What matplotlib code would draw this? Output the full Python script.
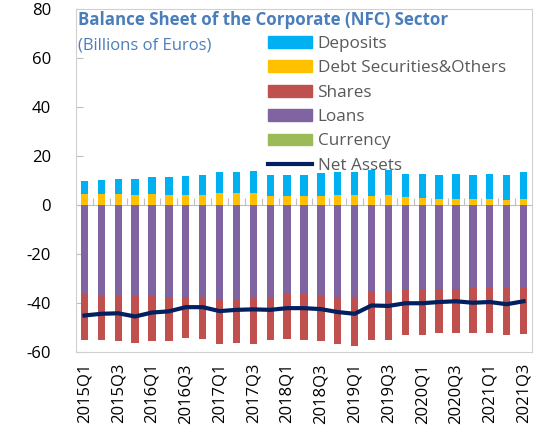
import matplotlib.pyplot as plt
from matplotlib.patches import Patch
from matplotlib.lines import Line2D
import numpy as np

plt.rcParams['font.family'] = ['Open Sans', 'DejaVu Sans']
plt.rcParams['axes.unicode_minus'] = False

quarters = [str(y) + 'Q' + str(q) for y in range(2015, 2022) for q in range(1, 5)][:27]

deposits = [5.7, 6.1, 6.5, 6.6, 7.0, 7.6, 8.0, 8.3, 8.3, 8.7, 9.0, 8.9, 8.8, 8.9,
            9.4, 9.1, 9.3, 10.3, 10.2, 9.6, 9.7, 9.7, 10.1, 9.9, 10.1, 10.3, 11.0]
debt = [4.3, 4.3, 4.3, 4.2, 4.3, 4.0, 4.0, 4.0, 5.0, 4.8, 4.8, 3.5, 3.5, 3.5,
        3.6, 4.2, 4.0, 3.8, 3.9, 3.1, 3.0, 2.5, 2.6, 2.3, 2.6, 2.1, 2.5]
currency = [0.0] * 27
loans = [-36.3, -36.7, -36.7, -37.1, -36.6, -37.8, -37.5, -37.9, -38.7, -38.3, -38.0, -37.9, -36.3, -36.3,
         -37.0, -37.4, -37.7, -35.2, -35.5, -34.6, -34.6, -34.2, -34.2, -33.4, -33.5, -33.7, -33.5]
shares = [-19.0, -18.6, -18.9, -19.3, -19.0, -17.8, -16.7, -16.7, -18.0, -18.1, -18.7, -17.4, -18.3, -18.7,
          -18.6, -19.5, -19.8, -19.8, -19.8, -18.3, -18.3, -18.1, -18.0, -18.9, -18.9, -19.3, -19.2]
net_assets = [-45.1, -44.4, -44.2, -45.5, -43.9, -43.4, -41.7, -41.7, -43.3, -42.8, -42.6, -42.8, -42.1, -42.1,
              -42.5, -43.7, -44.4, -41.0, -41.2, -40.1, -40.1, -39.6, -39.3, -39.9, -39.6, -40.5, -39.3]

c_dep = '#00B0F0'
c_debt = '#FFC000'
c_shares = '#C0504D'
c_loans = '#8064A2'
c_cur = '#9BBB59'
c_net = '#002060'

fig = plt.figure(figsize=(5.37, 4.34), dpi=100)
ax = fig.add_axes([76 / 537, 82 / 434, 456 / 537, 343 / 434])

x = np.arange(len(quarters))
w = 0.43
ax.bar(x, currency, w, color=c_cur, zorder=2)
ax.bar(x, debt, w, bottom=currency, color=c_debt, zorder=2)
ax.bar(x, deposits, w, bottom=np.array(currency) + np.array(debt), color=c_dep, zorder=2)
ax.bar(x, loans, w, color=c_loans, zorder=2)
ax.bar(x, shares, w, bottom=loans, color=c_shares, zorder=2)
ax.plot(x, net_assets, color=c_net, linewidth=3, zorder=3)

ax.set_xlim(-0.5, len(quarters) - 0.5)
ax.set_ylim(-60, 80)
ax.set_yticks(range(-60, 81, 20))
ax.tick_params(axis='y', direction='in', length=5, color='#bfbfbf', labelsize=12, pad=18)
ax.set_xticks(x[::2])
ax.set_xticklabels(quarters[::2], rotation=90, fontsize=12)
ax.tick_params(axis='x', length=0, pad=8)
for s in ax.spines.values():
    s.set_color('#d0d0d0')

# category axis at zero
zero_ax = ax.secondary_xaxis(60 / 140)
zero_ax.set_xticks(x[:-1] + 0.5)
zero_ax.set_xticklabels([])
zero_ax.tick_params(direction='in', length=5, color='#bfbfbf')
zero_ax.spines['bottom'].set_color('#bfbfbf')

handles = [Patch(color=c_dep), Patch(color=c_debt), Patch(color=c_shares),
           Patch(color=c_loans), Patch(color=c_cur), Line2D([], [], color=c_net, linewidth=3)]
labels = ['Deposits', 'Debt Securities&Others', 'Shares', 'Loans', 'Currency', 'Net Assets']
leg = fig.legend(handles, labels, loc='upper left', bbox_to_anchor=(268 / 537, 1 - 36 / 434),
                 frameon=False, fontsize=12.3, handlelength=2.6, handleheight=0.7,
                 handletextpad=0.3, labelspacing=0.49, borderpad=0, borderaxespad=0)
for t in leg.get_texts():
    t.set_color('#595959')

fig.text(78 / 537, 1 - 20 / 434, 'Balance Sheet of the Corporate (NFC) Sector', color='#4A7EBB',
         fontsize=12.2, fontweight='bold', va='center')
fig.text(78 / 537, 1 - 45 / 434, '(Billions of Euros)', color='#4A7EBB', fontsize=12, va='center')

plt.savefig('out.png', dpi=100)
